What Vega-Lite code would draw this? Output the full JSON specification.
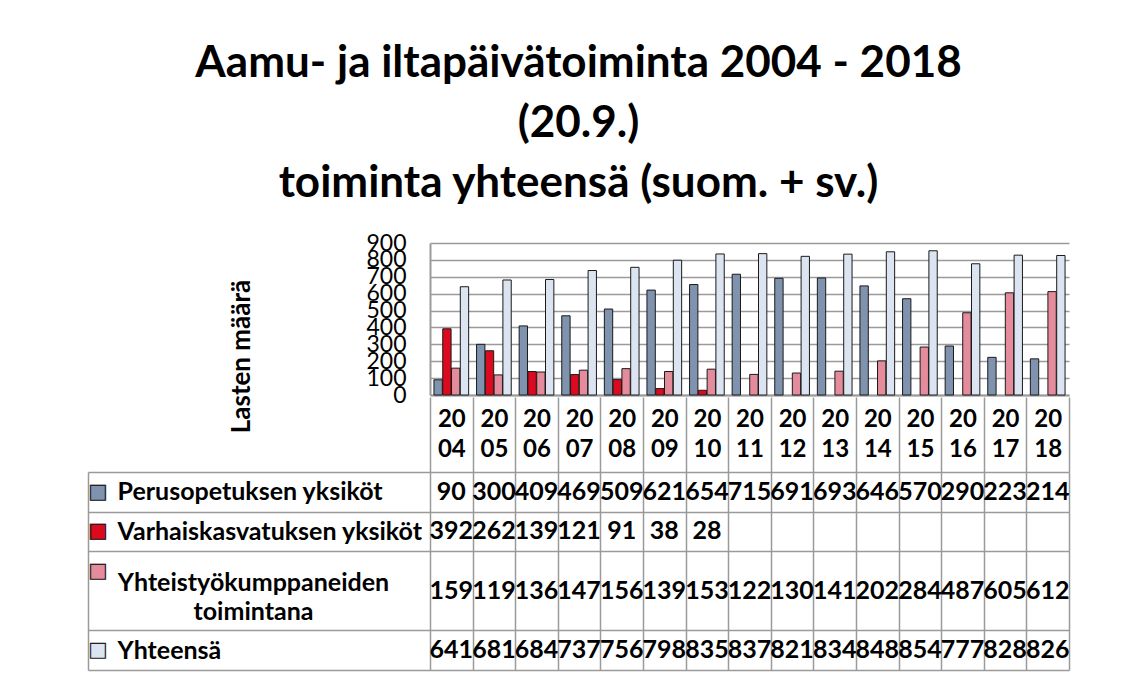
{
  "$schema": "https://vega.github.io/schema/vega-lite/v6.json",
  "background": "white",
  "padding": {"left": 87, "top": 42, "right": 60, "bottom": 10},
  "title": {
    "text": ["Aamu- ja iltapäivätoiminta 2004 - 2018", "(20.9.)", "toiminta yhteensä (suom. + sv.)"],
    "font": "Lato", "fontSize": 44, "fontWeight": "bold", "color": "black",
    "lineHeight": 60, "anchor": "middle", "offset": 26
  },
  "config": {
    "view": {"stroke": null},
    "font": "Lato",
    "axis": {"labelColor": "black", "titleColor": "black", "labelFont": "Lato", "titleFont": "Lato"}
  },
  "datasets": {
    "main": [
      {"year": "2004", "series": "Perusopetuksen yksiköt", "value": 90},
      {"year": "2005", "series": "Perusopetuksen yksiköt", "value": 300},
      {"year": "2006", "series": "Perusopetuksen yksiköt", "value": 409},
      {"year": "2007", "series": "Perusopetuksen yksiköt", "value": 469},
      {"year": "2008", "series": "Perusopetuksen yksiköt", "value": 509},
      {"year": "2009", "series": "Perusopetuksen yksiköt", "value": 621},
      {"year": "2010", "series": "Perusopetuksen yksiköt", "value": 654},
      {"year": "2011", "series": "Perusopetuksen yksiköt", "value": 715},
      {"year": "2012", "series": "Perusopetuksen yksiköt", "value": 691},
      {"year": "2013", "series": "Perusopetuksen yksiköt", "value": 693},
      {"year": "2014", "series": "Perusopetuksen yksiköt", "value": 646},
      {"year": "2015", "series": "Perusopetuksen yksiköt", "value": 570},
      {"year": "2016", "series": "Perusopetuksen yksiköt", "value": 290},
      {"year": "2017", "series": "Perusopetuksen yksiköt", "value": 223},
      {"year": "2018", "series": "Perusopetuksen yksiköt", "value": 214},
      {"year": "2004", "series": "Varhaiskasvatuksen yksiköt", "value": 392},
      {"year": "2005", "series": "Varhaiskasvatuksen yksiköt", "value": 262},
      {"year": "2006", "series": "Varhaiskasvatuksen yksiköt", "value": 139},
      {"year": "2007", "series": "Varhaiskasvatuksen yksiköt", "value": 121},
      {"year": "2008", "series": "Varhaiskasvatuksen yksiköt", "value": 91},
      {"year": "2009", "series": "Varhaiskasvatuksen yksiköt", "value": 38},
      {"year": "2010", "series": "Varhaiskasvatuksen yksiköt", "value": 28},
      {"year": "2004", "series": "Yhteistyökumppaneiden toimintana", "value": 159},
      {"year": "2005", "series": "Yhteistyökumppaneiden toimintana", "value": 119},
      {"year": "2006", "series": "Yhteistyökumppaneiden toimintana", "value": 136},
      {"year": "2007", "series": "Yhteistyökumppaneiden toimintana", "value": 147},
      {"year": "2008", "series": "Yhteistyökumppaneiden toimintana", "value": 156},
      {"year": "2009", "series": "Yhteistyökumppaneiden toimintana", "value": 139},
      {"year": "2010", "series": "Yhteistyökumppaneiden toimintana", "value": 153},
      {"year": "2011", "series": "Yhteistyökumppaneiden toimintana", "value": 122},
      {"year": "2012", "series": "Yhteistyökumppaneiden toimintana", "value": 130},
      {"year": "2013", "series": "Yhteistyökumppaneiden toimintana", "value": 141},
      {"year": "2014", "series": "Yhteistyökumppaneiden toimintana", "value": 202},
      {"year": "2015", "series": "Yhteistyökumppaneiden toimintana", "value": 284},
      {"year": "2016", "series": "Yhteistyökumppaneiden toimintana", "value": 487},
      {"year": "2017", "series": "Yhteistyökumppaneiden toimintana", "value": 605},
      {"year": "2018", "series": "Yhteistyökumppaneiden toimintana", "value": 612},
      {"year": "2004", "series": "Yhteensä", "value": 641},
      {"year": "2005", "series": "Yhteensä", "value": 681},
      {"year": "2006", "series": "Yhteensä", "value": 684},
      {"year": "2007", "series": "Yhteensä", "value": 737},
      {"year": "2008", "series": "Yhteensä", "value": 756},
      {"year": "2009", "series": "Yhteensä", "value": 798},
      {"year": "2010", "series": "Yhteensä", "value": 835},
      {"year": "2011", "series": "Yhteensä", "value": 837},
      {"year": "2012", "series": "Yhteensä", "value": 821},
      {"year": "2013", "series": "Yhteensä", "value": 834},
      {"year": "2014", "series": "Yhteensä", "value": 848},
      {"year": "2015", "series": "Yhteensä", "value": 854},
      {"year": "2016", "series": "Yhteensä", "value": 777},
      {"year": "2017", "series": "Yhteensä", "value": 828},
      {"year": "2018", "series": "Yhteensä", "value": 826}
    ]
  },
  "bounds": "flush",
  "spacing": 77,
  "vconcat": [
    {
      "width": 639,
      "height": 152,
      "data": {"name": "main"},
      "mark": {"type": "bar", "stroke": "#1a1a1a", "strokeWidth": 1},
      "encoding": {
        "x": {
          "field": "year", "type": "nominal",
          "scale": {"paddingInner": 0, "paddingOuter": 0},
          "axis": {"labels": false, "ticks": false, "title": null, "domainColor": "#9a9a9a", "domainWidth": 2}
        },
        "xOffset": {
          "field": "series", "type": "nominal",
          "scale": {"domain": ["Perusopetuksen yksiköt", "Varhaiskasvatuksen yksiköt", "Yhteistyökumppaneiden toimintana", "Yhteensä"], "paddingOuter": 0.45, "paddingInner": 0.05}
        },
        "y": {
          "field": "value", "type": "quantitative",
          "scale": {"domain": [0, 900], "nice": false},
          "axis": {
            "values": [0, 100, 200, 300, 400, 500, 600, 700, 800, 900],
            "ticks": false, "domainColor": "#9a9a9a", "domainWidth": 2,
            "gridColor": "#9a9a9a", "gridWidth": 1.5,
            "labelFontSize": 23, "labelPadding": 24, "labelOverlap": false, "labelFlush": false, "labelBound": false,
            "title": "Lasten määrä", "titleFontSize": 26, "titleFontWeight": "bold",
            "titleAngle": 270, "titleX": -189, "titleY": 113, "titleAlign": "center", "titleBaseline": "middle"
          }
        },
        "color": {
          "field": "series", "type": "nominal",
          "scale": {"domain": ["Perusopetuksen yksiköt", "Varhaiskasvatuksen yksiköt", "Yhteistyökumppaneiden toimintana", "Yhteensä"], "range": ["#7F93AE", "#DC0A1E", "#E58C9C", "#DCE4F2"]},
          "legend": null
        }
      }
    },
    {
      "width": 639,
      "height": 198,
      "data": {"name": "main"},
      "resolve": {"axis": {"y": "independent"}},
      "layer": [
        {
          "transform": [{"filter": "datum.series !== 'Yhteistyökumppaneiden toimintana'"}],
          "mark": {"type": "text", "fontSize": 25, "fontWeight": "bold", "color": "black", "font": "Lato"},
          "encoding": {
            "x": {
              "field": "year", "type": "nominal",
              "scale": {"paddingInner": 0, "paddingOuter": 0},
              "axis": {
                "orient": "top", "title": null, "domain": false,
                "ticks": true, "tickBand": "extent", "tickSize": 75, "tickColor": "#9a9a9a", "tickWidth": 1.5,
                "grid": true, "gridColor": "#9a9a9a", "gridWidth": 1.5,
                "labelExpr": "[substring(datum.label, 0, 2), substring(datum.label, 2)]",
                "labelAngle": 0, "labelFontSize": 24, "labelFontWeight": "bold", "labelLineHeight": 30,
                "labelBaseline": "middle", "labelPadding": -22.5, "labelOverlap": false
              }
            },
            "y": {
              "field": "series", "type": "nominal",
              "scale": {"domain": ["Perusopetuksen yksiköt", "Varhaiskasvatuksen yksiköt", "Yhteistyökumppaneiden toimintana", " ", "Yhteensä"], "paddingInner": 0, "paddingOuter": 0},
              "axis": {
                "orient": "left", "title": null, "domain": false,
                "ticks": true, "tickBand": "extent", "tickSize": 342, "tickWidth": 1.5,
                "tickColor": {"condition": {"test": "datum.value === 'Yhteistyökumppaneiden toimintana'", "value": "transparent"}, "value": "#9a9a9a"},
                "grid": true, "gridWidth": 1.5,
                "gridColor": {"condition": {"test": "datum.value === 'Yhteistyökumppaneiden toimintana'", "value": "transparent"}, "value": "#9a9a9a"},
                "labelExpr": "(datum.value === 'Yhteistyökumppaneiden toimintana' || datum.value === ' ') ? '' : datum.value",
                "labelAlign": "left", "labelPadding": -29, "labelLimit": 0,
                "labelBaseline": "middle",
                "labelFontSize": 25, "labelFontWeight": "bold", "labelOverlap": false
              }
            },
            "text": {"field": "value", "type": "quantitative"}
          }
        },
        {
          "transform": [{"filter": "datum.series === 'Yhteistyökumppaneiden toimintana'"}],
          "mark": {"type": "text", "fontSize": 25, "fontWeight": "bold", "color": "black", "font": "Lato"},
          "encoding": {
            "x": {"field": "year", "type": "nominal"},
            "y": {
              "field": "series", "type": "nominal", "bandPosition": 1,
              "axis": {
                "orient": "left", "title": null, "domain": false, "ticks": false, "grid": false,
                "labelExpr": "datum.value === ' ' ? '' : '■'",
                "labelFont": "DejaVu Sans", "labelFontSize": 21, "labelAlign": "center", "labelBaseline": "middle",
                "labelPadding": 332.5, "labelOverlap": false,
                "labelColor": {"condition": [
                  {"test": "datum.value === 'Perusopetuksen yksiköt'", "value": "#7F93AE"},
                  {"test": "datum.value === 'Varhaiskasvatuksen yksiköt'", "value": "#DC0A1E"},
                  {"test": "datum.value === 'Yhteistyökumppaneiden toimintana'", "value": "#E58C9C"}
                ], "value": "#DCE4F2"}
              }
            },
            "text": {"field": "value", "type": "quantitative"}
          }
        },
        {
          "transform": [{"filter": "false"}],
          "mark": {"type": "text"},
          "encoding": {
            "y": {
              "field": "series", "type": "nominal",
              "axis": {
                "orient": "left", "title": null, "offset": 342,
                "domain": true, "domainColor": "#9a9a9a", "domainWidth": 1.5,
                "ticks": false, "grid": false,
                "labelExpr": "datum.value === ' ' ? '' : '□'",
                "labelFont": "DejaVu Sans", "labelFontSize": 21, "labelAlign": "center", "labelBaseline": "middle",
                "labelPadding": -9.5, "labelColor": "#222222", "labelOverlap": false
              }
            }
          }
        },
        {
          "transform": [{"filter": "false"}],
          "mark": {"type": "text"},
          "encoding": {
            "y": {
              "field": "series", "type": "nominal",
              "axis": {
                "orient": "left", "title": null, "domain": false, "ticks": false, "grid": false,
                "labelExpr": "datum.value === 'Yhteistyökumppaneiden toimintana' ? ['Yhteistyökumppaneiden', 'toimintana'] : ''",
                "labelFontSize": 25, "labelFontWeight": "bold", "labelAlign": "center", "labelBaseline": "top",
                "labelLineHeight": 29, "labelPadding": 177, "labelLimit": 0, "labelOverlap": false
              }
            }
          }
        }
      ]
    }
  ]
}
